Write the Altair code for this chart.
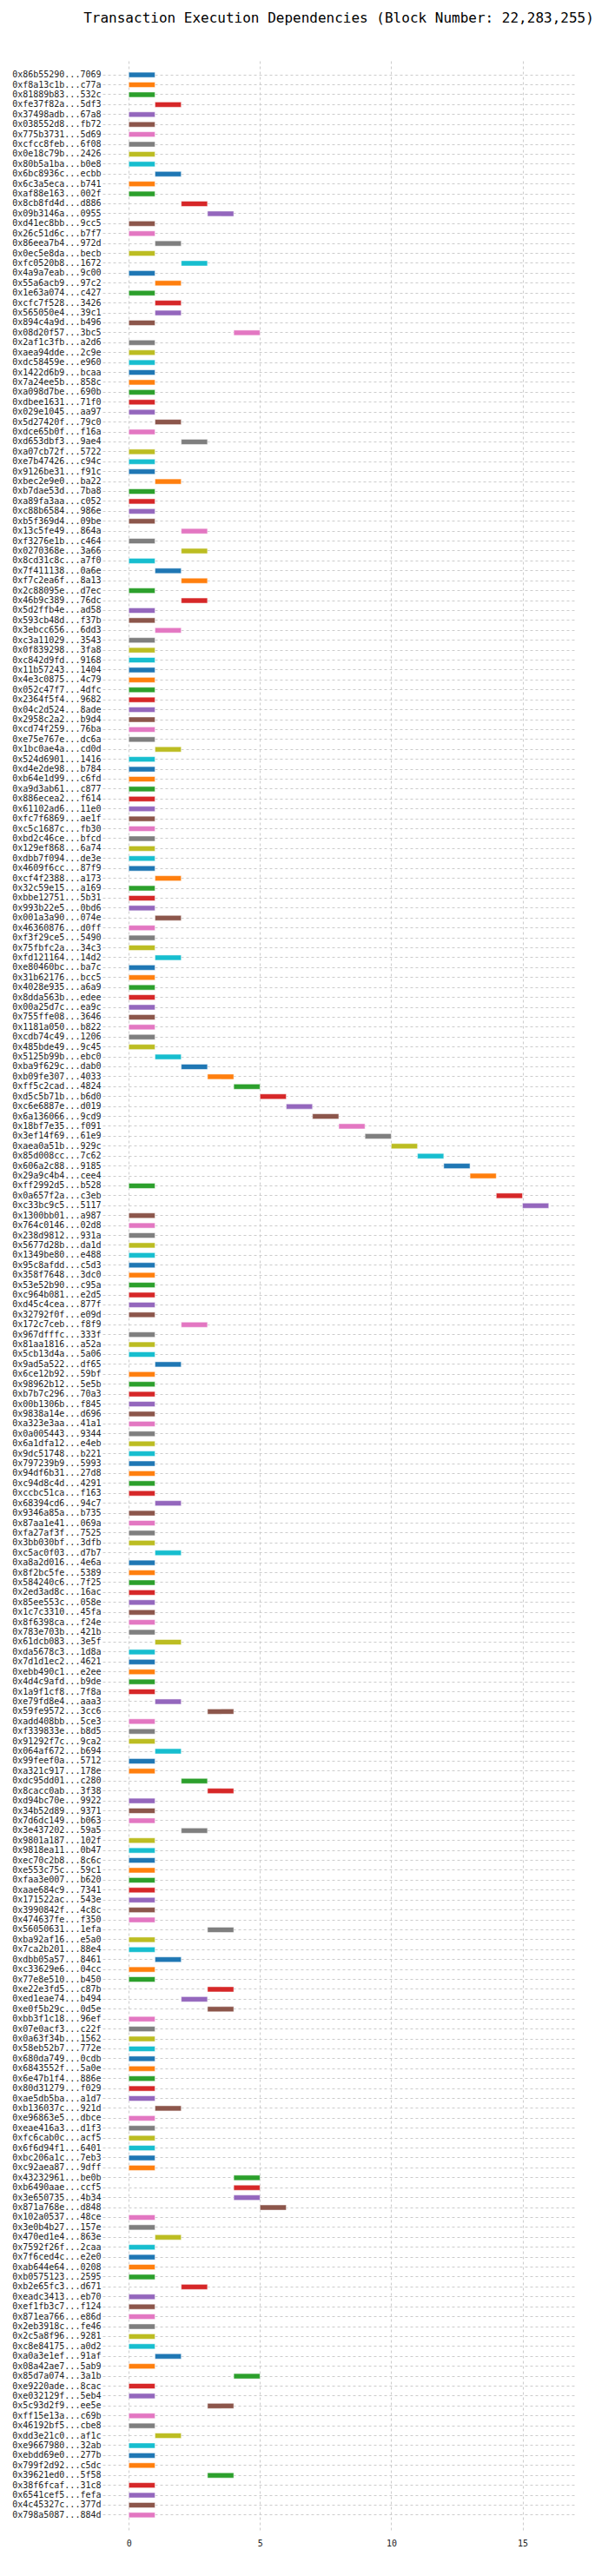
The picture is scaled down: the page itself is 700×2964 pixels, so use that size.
import pandas as pd
import altair as alt

# transaction hashes (shortened, as shown) in block order
tx_labels = [
    "0x86b55290...7069", "0xf8a13c1b...c77a", "0x81889b83...532c", "0xfe37f82a...5df3", "0x37498adb...67a8",
    "0x038552d8...fb72", "0x775b3731...5d69", "0xcfcc8feb...6f08", "0x0e18c79b...2426", "0x80b5a1ba...b0e8",
    "0x6bc8936c...ecbb", "0x6c3a5eca...b741", "0xaf88e163...002f", "0x8cb8fd4d...d886", "0x09b3146a...0955",
    "0xd41ec8bb...9cc5", "0x26c51d6c...b7f7", "0x86eea7b4...972d", "0x0ec5e8da...becb", "0xfc0520b8...1672",
    "0x4a9a7eab...9c00", "0x55a6acb9...97c2", "0x1e63a074...c427", "0xcfc7f528...3426", "0x565050e4...39c1",
    "0x894c4a9d...b496", "0x08d20f57...3bc5", "0x2af1c3fb...a2d6", "0xaea94dde...2c9e", "0xdc58459e...e960",
    "0x1422d6b9...bcaa", "0x7a24ee5b...858c", "0xa098d7be...690b", "0xdbee1631...71f0", "0x029e1045...aa97",
    "0x5d27420f...79c0", "0xdce65b0f...f16a", "0xd653dbf3...9ae4", "0xa07cb72f...5722", "0xe7b47426...c94c",
    "0x9126be31...f91c", "0xbec2e9e0...ba22", "0xb7dae53d...7ba8", "0xa89fa3aa...c052", "0xc88b6584...986e",
    "0xb5f369d4...09be", "0x13c5fe49...864a", "0xf3276e1b...c464", "0x0270368e...3a66", "0x8cd31c8c...a7f0",
    "0x7f411138...0a6e", "0xf7c2ea6f...8a13", "0x2c88095e...d7ec", "0x46b9c389...76dc", "0x5d2ffb4e...ad58",
    "0x593cb48d...f37b", "0x3ebcc656...6dd3", "0xc3a11029...3543", "0x0f839298...3fa8", "0xc842d9fd...9168",
    "0x11b57243...1404", "0x4e3c0875...4c79", "0x052c47f7...4dfc", "0x2364f5f4...9682", "0x04c2d524...8ade",
    "0x2958c2a2...b9d4", "0xcd74f259...76ba", "0xe75e767e...dc6a", "0x1bc0ae4a...cd0d", "0x524d6901...1416",
    "0xd4e2de98...b784", "0xb64e1d99...c6fd", "0xa9d3ab61...c877", "0x886ecea2...f614", "0x61102ad6...11e0",
    "0xfc7f6869...ae1f", "0xc5c1687c...fb30", "0xbd2c46ce...bfcd", "0x129ef868...6a74", "0xdbb7f094...de3e",
    "0x4609f6cc...87f9", "0xcf4f2388...a173", "0x32c59e15...a169", "0xbbe12751...5b31", "0x993b22e5...0bd6",
    "0x001a3a90...074e", "0x46360876...d0ff", "0xf3f29ce5...5490", "0x75fbfc2a...34c3", "0xfd121164...14d2",
    "0xe80460bc...ba7c", "0x31b62176...bcc5", "0x4028e935...a6a9", "0x8dda563b...edee", "0x00a25d7c...ea9c",
    "0x755ffe08...3646", "0x1181a050...b822", "0xcdb74c49...1206", "0x485bde49...9c45", "0x5125b99b...ebc0",
    "0xba9f629c...dab0", "0xb09fe307...4033", "0xff5c2cad...4824", "0xd5c5b71b...b6d0", "0xc6e6887e...d019",
    "0x6a136066...9cd9", "0x18bf7e35...f091", "0x3ef14f69...61e9", "0xaea0a51b...929c", "0x85d008cc...7c62",
    "0x606a2c88...9185", "0x29a9c4b4...cee4", "0xff2992d5...b528", "0x0a657f2a...c3eb", "0xc33bc9c5...5117",
    "0x1300bb01...a987", "0x764c0146...02d8", "0x238d9812...931a", "0x5677d28b...da1d", "0x1349be80...e488",
    "0x95c8afdd...c5d3", "0x358f7648...3dc0", "0x53e52b90...c95a", "0xc964b081...e2d5", "0xd45c4cea...877f",
    "0x32792f0f...e09d", "0x172c7ceb...f8f9", "0x967dfffc...333f", "0x81aa1816...a52a", "0x5cb13d4a...5a06",
    "0x9ad5a522...df65", "0x6ce12b92...59bf", "0x98962b12...5e5b", "0xb7b7c296...70a3", "0x00b1306b...f845",
    "0x9838a14e...d696", "0xa323e3aa...41a1", "0x0a005443...9344", "0x6a1dfa12...e4eb", "0x9dc51748...b221",
    "0x797239b9...5993", "0x94df6b31...27d8", "0xc94d8c4d...4291", "0xccbc51ca...f163", "0x68394cd6...94c7",
    "0x9346a85a...b735", "0x87aa1e41...069a", "0xfa27af3f...7525", "0x3bb030bf...3dfb", "0xc5ac0f03...d7b7",
    "0xa8a2d016...4e6a", "0x8f2bc5fe...5389", "0x584240c6...7f25", "0x2ed3ad8c...16ac", "0x85ee553c...058e",
    "0x1c7c3310...45fa", "0x8f6398ca...f24e", "0x783e703b...421b", "0x61dcb083...3e5f", "0xda5678c3...1d8a",
    "0x7d1d1ec2...4621", "0xebb490c1...e2ee", "0x4d4c9afd...b9de", "0x1a9f1cf8...7f8a", "0xe79fd8e4...aaa3",
    "0x59fe9572...3cc6", "0xadd408bb...5ce3", "0xf339833e...b8d5", "0x91292f7c...9ca2", "0x064af672...b694",
    "0x99feef0a...5712", "0xa321c917...178e", "0xdc95dd01...c280", "0x8cacc0ab...3f38", "0xd94bc70e...9922",
    "0x34b52d89...9371", "0x7d6dc149...b063", "0x3e437202...59a5", "0x9801a187...102f", "0x9818ea11...0b47",
    "0xec70c2b8...8c6c", "0xe553c75c...59c1", "0xfaa3e007...b620", "0xaae684c9...7341", "0x171522ac...543e",
    "0x3990842f...4c8c", "0x474637fe...f350", "0x56050631...1efa", "0xba92af16...e5a0", "0x7ca2b201...88e4",
    "0xdbb05a57...8461", "0xc33629e6...04cc", "0x77e8e510...b450", "0xe22e3fd5...c87b", "0xed1eae74...b494",
    "0xe0f5b29c...0d5e", "0xbb3f1c18...96ef", "0x07e0acf3...c22f", "0x0a63f34b...1562", "0x58eb52b7...772e",
    "0x680da749...0cdb", "0x6843552f...5a0e", "0x6e47b1f4...886e", "0x80d31279...f029", "0xae5db5ba...a1d7",
    "0xb136037c...921d", "0xe96863e5...dbce", "0xeae416a3...d1f3", "0xfc6cab0c...acf5", "0x6f6d94f1...6401",
    "0xbc206a1c...7eb3", "0xc92aea87...9dff", "0x43232961...be0b", "0xb6490aae...ccf5", "0x3e650735...4b34",
    "0x871a768e...d848", "0x102a0537...48ce", "0x3e0b4b27...157e", "0x470ed1e4...863e", "0x7592f26f...2caa",
    "0x7f6ced4c...e2e0", "0xab644e64...0208", "0xb0575123...2595", "0xb2e65fc3...d671", "0xeadc3413...eb70",
    "0xef1fb3c7...f124", "0x871ea766...e86d", "0x2eb3918c...fe46", "0x2c5a8f96...9281", "0xc8e84175...a0d2",
    "0xa0a3e1ef...91af", "0x08a42ae7...5ab9", "0x85d7a074...3a1b", "0xe9220ade...8cac", "0xe032129f...5eb4",
    "0x5c93d2f9...ee5e", "0xff15e13a...c69b", "0x46192bf5...cbe8", "0xdd3e21c0...af1c", "0xe9667980...32ab",
    "0xebdd69e0...277b", "0x799f2d92...c5dc", "0x39621ed0...5f58", "0x38f6fcaf...31c8", "0x6541cef5...fefa",
    "0x4c45327c...377d", "0x798a5087...884d",
]

# execution step at which each transaction starts (each lasts one step)
start_step = [
    0, 0, 0, 1, 0, 0, 0, 0, 0, 0,
    1, 0, 0, 2, 3, 0, 0, 1, 0, 2,
    0, 1, 0, 1, 1, 0, 4, 0, 0, 0,
    0, 0, 0, 0, 0, 1, 0, 2, 0, 0,
    0, 1, 0, 0, 0, 0, 2, 0, 2, 0,
    1, 2, 0, 2, 0, 0, 1, 0, 0, 0,
    0, 0, 0, 0, 0, 0, 0, 0, 1, 0,
    0, 0, 0, 0, 0, 0, 0, 0, 0, 0,
    0, 1, 0, 0, 0, 1, 0, 0, 0, 1,
    0, 0, 0, 0, 0, 0, 0, 0, 0, 1,
    2, 3, 4, 5, 6, 7, 8, 9, 10, 11,
    12, 13, 0, 14, 15, 0, 0, 0, 0, 0,
    0, 0, 0, 0, 0, 0, 2, 0, 0, 0,
    1, 0, 0, 0, 0, 0, 0, 0, 0, 0,
    0, 0, 0, 0, 1, 0, 0, 0, 0, 1,
    0, 0, 0, 0, 0, 0, 0, 0, 1, 0,
    0, 0, 0, 0, 1, 3, 0, 0, 0, 1,
    0, 0, 2, 3, 0, 0, 0, 2, 0, 0,
    0, 0, 0, 0, 0, 0, 0, 3, 0, 0,
    1, 0, 0, 3, 2, 3, 0, 0, 0, 0,
    0, 0, 0, 0, 0, 1, 0, 0, 0, 0,
    0, 0, 4, 4, 4, 5, 0, 0, 1, 0,
    0, 0, 0, 2, 0, 0, 0, 0, 0, 0,
    1, 0, 4, 0, 0, 3, 0, 0, 1, 0,
    0, 0, 3, 0, 0, 0, 0,
]

palette = ["#1f77b4", "#ff7f0e", "#2ca02c", "#d62728", "#9467bd",
           "#8c564b", "#e377c2", "#7f7f7f", "#bcbd22", "#17becf"]

df = pd.DataFrame({"tx": tx_labels, "start": start_step})
df["end"] = df["start"] + 1
df["color"] = [palette[i % 10] for i in range(len(df))]

mono = "DejaVu Sans Mono"

chart = alt.Chart(df).mark_bar(height=6, stroke="white", strokeWidth=0.5).encode(
    x=alt.X("start:Q", title=None,
            scale=alt.Scale(domain=[-1, 17], nice=False, zero=False),
            axis=alt.Axis(values=[0, 5, 10, 15], grid=True, gridDash=[3, 3],
                          gridColor="#cccccc", domain=False, ticks=False,
                          labelPadding=10)),
    x2="end:Q",
    y=alt.Y("tx:N", title=None, sort=tx_labels,
            scale=alt.Scale(paddingInner=0, paddingOuter=1),
            axis=alt.Axis(grid=True, gridDash=[3, 3], gridColor="#cccccc",
                          domain=False, ticks=False, labelPadding=2,
                          labelFontSize=10)),
    color=alt.Color("color:N", scale=None, legend=None),
).properties(
    width=544,
    height=2842,
    title=alt.TitleParams("Transaction Execution Dependencies (Block Number: 22,283,255)",
                          fontSize=16, font=mono, fontWeight="normal", offset=40),
).configure_axis(
    labelFont=mono, labelColor="#222222", labelFontSize=10
).configure_view(stroke=None)

chart.save("out.html", embed_options={"renderer": "svg", "actions": False})
